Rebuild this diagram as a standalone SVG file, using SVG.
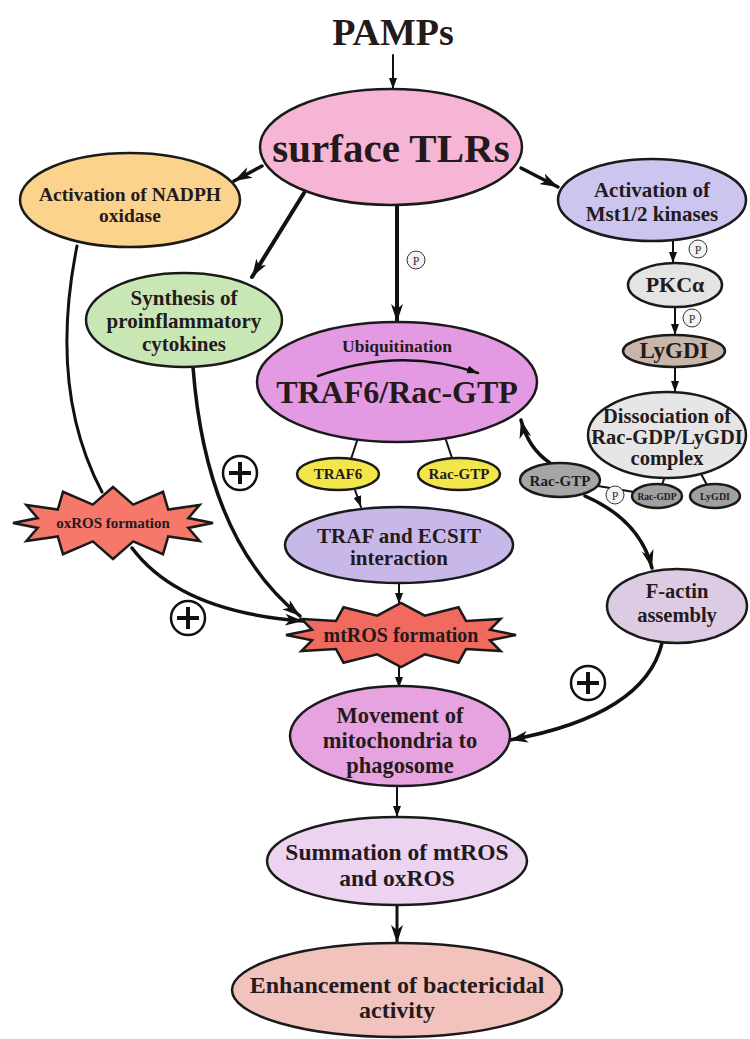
<svg xmlns="http://www.w3.org/2000/svg" width="750" height="1039" viewBox="0 0 750 1039">
<defs>
<style>
.n{stroke:#1a1a1a;stroke-width:2.5}
.t{font-family:"Liberation Serif","Times New Roman",serif;font-weight:bold;fill:#241a1c;text-anchor:middle}
.c{fill:none;stroke:#111;stroke-linecap:round}
.p{fill:#f4f4f4;stroke:#333;stroke-width:1}
.pt{font-family:"Liberation Serif",serif;font-size:12px;fill:#333;text-anchor:middle}
.plus{fill:#fff;stroke:#111;stroke-width:2.5}
.pl{stroke:#111;stroke-width:4;fill:none}
</style>
<marker id="big" markerUnits="userSpaceOnUse" markerWidth="20" markerHeight="12" refX="18" refY="6" orient="auto">
<path d="M0,0 L18,6 L0,12 L5,6 z" fill="#111"/>
</marker>
<marker id="sm" markerUnits="userSpaceOnUse" markerWidth="12" markerHeight="8" refX="11" refY="4" orient="auto">
<path d="M0,0 L11,4 L0,8 z" fill="#111"/>
</marker>
</defs>
<rect width="750" height="1039" fill="#fff"/>

<g id="connectors">
<path class="c" d="M393 55 L393 89" stroke-width="2" marker-end="url(#sm)"/>
<path class="c" d="M262 166 L234 181" stroke-width="3.5" marker-end="url(#big)"/>
<path class="c" d="M521 168 L558 187" stroke-width="3.5" marker-end="url(#big)"/>
<path class="c" d="M304 193 L252 277" stroke-width="4" marker-end="url(#big)"/>
<path class="c" d="M397 205 L397 322" stroke-width="4" marker-end="url(#big)"/>
<path class="c" d="M77 246 Q48 390 102 492" stroke-width="3"/>
<path class="c" d="M132 548 Q180 612 303 621" stroke-width="3.5" marker-end="url(#big)"/>
<path class="c" d="M193 367 Q206 540 300 616" stroke-width="3.5" marker-end="url(#big)"/>
<path class="c" d="M357 441 L351 459" stroke-width="2"/>
<path class="c" d="M446 440 L452 458" stroke-width="2"/>
<path class="c" d="M355 490 L361 507" stroke-width="2" marker-end="url(#sm)"/>
<path class="c" d="M399 583 L399 604" stroke-width="2" marker-end="url(#sm)"/>
<path class="c" d="M399 667 L399 688" stroke-width="2" marker-end="url(#sm)"/>
<path class="c" d="M397 785 L397 817" stroke-width="2" marker-end="url(#sm)"/>
<path class="c" d="M397 905 L397 943" stroke-width="3" marker-end="url(#big)"/>
<path class="c" d="M673 241 L673 263" stroke-width="2" marker-end="url(#sm)"/>
<path class="c" d="M675 307 L675 335" stroke-width="2" marker-end="url(#sm)"/>
<path class="c" d="M675 367 L675 392" stroke-width="2" marker-end="url(#sm)"/>
<path class="c" d="M665 476 L662 485" stroke-width="2"/>
<path class="c" d="M700 472 L707 485" stroke-width="2"/>
<path class="c" d="M598 486 L634 492" stroke-width="2"/>
<path class="c" d="M550 463 Q528 448 521 420" stroke-width="3.5" marker-end="url(#big)"/>
<path class="c" d="M585 496 Q640 520 652 568" stroke-width="3.5" marker-end="url(#big)"/>
<path class="c" d="M662 643 Q645 715 510 740" stroke-width="3.5" marker-end="url(#big)"/>
</g>

<g id="pamps"><text class="t" x="393" y="45" font-size="38">PAMPs</text></g>

<g id="tlrs">
<ellipse class="n" cx="391" cy="147" rx="131" ry="58" fill="#f7b5d6"/>
<text class="t" x="391" y="162" font-size="41">surface TLRs</text>
</g>

<g id="nadph">
<ellipse class="n" cx="130" cy="200" rx="110" ry="47" fill="#fbd38d"/>
<text class="t" x="130" y="201" font-size="19.5">Activation of NADPH</text>
<text class="t" x="130" y="222" font-size="19.5">oxidase</text>
</g>

<g id="mst">
<ellipse class="n" cx="652" cy="200" rx="94" ry="41" fill="#cbc5ef"/>
<text class="t" x="652" y="197" font-size="21">Activation of</text>
<text class="t" x="652" y="221" font-size="21">Mst1/2 kinases</text>
</g>

<g id="synthesis">
<ellipse class="n" cx="184" cy="320" rx="98" ry="47" fill="#c9e7b5"/>
<text class="t" x="184" y="305" font-size="21">Synthesis of</text>
<text class="t" x="184" y="328" font-size="21">proinflammatory</text>
<text class="t" x="184" y="351" font-size="21">cytokines</text>
</g>

<g id="traf6rac">
<ellipse class="n" cx="397" cy="382" rx="140" ry="60" fill="#e49ae3"/>
<text class="t" x="397" y="352" font-size="17.5">Ubiquitination</text>
<path class="c" d="M318 376 Q400 346 478 373" stroke-width="2.5" marker-end="url(#sm)"/>
<text class="t" x="397" y="403" font-size="32">TRAF6/Rac-GTP</text>
</g>

<g id="p1"><circle class="p" cx="416" cy="260" r="9"/><text class="pt" x="416" y="264.5">P</text></g>

<g id="traf6">
<ellipse class="n" cx="338" cy="474" rx="41" ry="16" fill="#f3e64a"/>
<text class="t" x="338" y="479" font-size="15">TRAF6</text>
</g>

<g id="racgtp-y">
<ellipse class="n" cx="459" cy="474" rx="41" ry="16" fill="#f3e64a"/>
<text class="t" x="459" y="479" font-size="15">Rac-GTP</text>
</g>

<g id="ecsit">
<ellipse class="n" cx="399" cy="545" rx="114" ry="38" fill="#c8b8ea"/>
<text class="t" x="399" y="543" font-size="21">TRAF and ECSIT</text>
<text class="t" x="399" y="565" font-size="21">interaction</text>
</g>

<g id="oxros">
<polygon class="n" fill="#f5786a" points="213,523 188.3,527.9 199.6,541 168.2,536.4 163,554.2 133.2,541.4 113,559 92.8,541.4 63,554.2 57.8,536.4 26.4,541 37.7,527.9 13,523 37.7,518.1 26.4,505 57.8,509.6 63,491.8 92.8,504.6 113,487 133.2,504.6 163,491.8 168.2,509.6 199.6,505 188.3,518.1"/>
<text class="t" x="113" y="528" font-size="15">oxROS formation</text>
</g>

<g id="mtros">
<polygon class="n" fill="#f06a60" points="516,635 489.9,640.2 500.6,651 466,649.1 458.5,662.7 424.8,654.3 401,667 377.2,654.3 343.5,662.7 336,649.1 301.4,651 312.1,640.2 286,635 312.1,629.8 301.4,619 336,620.9 343.5,607.3 377.2,615.7 401,603 424.8,615.7 458.5,607.3 466,620.9 500.6,619 489.9,629.8"/>
<text class="t" x="401" y="642" font-size="20">mtROS formation</text>
</g>

<g id="plus1"><circle class="plus" cx="240" cy="473" r="17"/><path class="pl" d="M229 473 H251 M240 462 V484"/></g>
<g id="plus2"><circle class="plus" cx="188" cy="618" r="17"/><path class="pl" d="M177 618 H199 M188 607 V629"/></g>
<g id="plus3"><circle class="plus" cx="588" cy="683" r="17"/><path class="pl" d="M577 683 H599 M588 672 V694"/></g>

<g id="pkca">
<ellipse class="n" cx="675" cy="285" rx="47" ry="22" fill="#e4e4e4"/>
<text class="t" x="675" y="292" font-size="22">PKCα</text>
</g>
<g id="p2"><circle class="p" cx="698" cy="249" r="9"/><text class="pt" x="698" y="253.5">P</text></g>
<g id="p3"><circle class="p" cx="692" cy="318" r="9"/><text class="pt" x="692" y="322.5">P</text></g>

<g id="lygdi">
<ellipse class="n" cx="674" cy="351" rx="51" ry="16" fill="#c9b6ab"/>
<text class="t" x="674" y="358" font-size="23">LyGDI</text>
</g>

<g id="dissociation">
<ellipse class="n" cx="667" cy="435" rx="79" ry="43" fill="#e6e6e6"/>
<text class="t" x="667" y="423" font-size="20.5">Dissociation of</text>
<text class="t" x="667" y="444" font-size="20.5">Rac-GDP/LyGDI</text>
<text class="t" x="667" y="465" font-size="20.5">complex</text>
</g>

<g id="racgtp-g">
<ellipse class="n" cx="560" cy="480" rx="40" ry="17" fill="#a6a6a6"/>
<text class="t" x="560" y="486" font-size="15">Rac-GTP</text>
</g>
<g id="p4"><circle class="p" cx="615" cy="495" r="9"/><text class="pt" x="615" y="499.5">P</text></g>

<g id="racgdp">
<ellipse class="n" cx="657" cy="496" rx="25" ry="12" fill="#a0a0a0"/>
<text class="t" x="657" y="499.5" font-size="9.5">Rac-GDP</text>
</g>
<g id="lygdi-s">
<ellipse class="n" cx="715" cy="496" rx="25" ry="12" fill="#a0a0a0"/>
<text class="t" x="715" y="499.5" font-size="10">LyGDI</text>
</g>

<g id="factin">
<ellipse class="n" cx="677" cy="606" rx="70" ry="37" fill="#ddcbe3"/>
<text class="t" x="677" y="598" font-size="20.5">F-actin</text>
<text class="t" x="677" y="622" font-size="20.5">assembly</text>
</g>

<g id="movement">
<ellipse class="n" cx="400" cy="736" rx="110" ry="50" fill="#e7a3e0"/>
<text class="t" x="400" y="723" font-size="22.5">Movement of</text>
<text class="t" x="400" y="748" font-size="22.5">mitochondria to</text>
<text class="t" x="400" y="773" font-size="22.5">phagosome</text>
</g>

<g id="summation">
<ellipse class="n" cx="397" cy="861" rx="130" ry="44" fill="#ecd4f0"/>
<text class="t" x="397" y="860" font-size="23.5">Summation of mtROS</text>
<text class="t" x="397" y="886" font-size="23.5">and oxROS</text>
</g>

<g id="enhancement">
<ellipse class="n" cx="397" cy="990" rx="165" ry="47" fill="#f2c2bd"/>
<text class="t" x="397" y="993" font-size="24">Enhancement of bactericidal</text>
<text class="t" x="397" y="1018" font-size="24">activity</text>
</g>
</svg>
